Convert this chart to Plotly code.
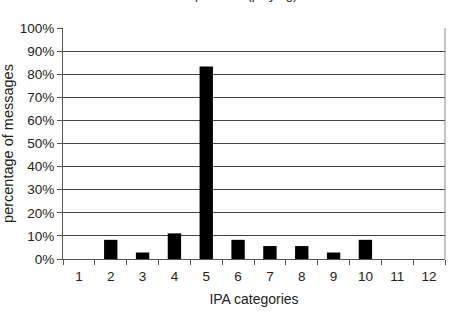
import plotly.graph_objects as go

categories = [1, 2, 3, 4, 5, 6, 7, 8, 9, 10, 11, 12]
values = [0, 8.3, 2.8, 11.1, 83.3, 8.3, 5.6, 5.6, 2.8, 8.3, 0, 0]
y_ticks = [0, 10, 20, 30, 40, 50, 60, 70, 80, 90, 100]
y_tick_labels = [f"{v}%" for v in y_ticks]

FONT = "Liberation Sans, Arial, sans-serif"

fig = go.Figure()
fig.add_trace(go.Bar(
    x=categories, y=values, width=0.42,
    marker=dict(color="black", line=dict(width=0)),
))

fig.update_layout(
    width=449, height=312,
    margin=dict(l=63, r=4, t=28, b=53),
    paper_bgcolor="white", plot_bgcolor="white",
    showlegend=False,
    font=dict(family=FONT, size=13, color="#222"),
    xaxis=dict(
        range=[0.5, 12.5], tickvals=categories, ticktext=[str(c) for c in categories],
        ticks="", showgrid=False, showline=True, linecolor="#555", linewidth=1,
        mirror=False, zeroline=False, ticklabelstandoff=5,
        minor=dict(tickvals=[i + 0.5 for i in range(0, 13)], ticks="outside",
                   ticklen=5, tickcolor="#555", showgrid=False),
        title=dict(text="IPA categories", font=dict(size=14), standoff=10),
        tickfont=dict(size=13.5),
    ),
    yaxis=dict(
        range=[0, 100], tickvals=y_ticks, ticktext=y_tick_labels,
        ticks="outside", ticklen=5, tickcolor="#555",
        showgrid=True, gridcolor="#444", gridwidth=1,
        showline=True, linecolor="#555", linewidth=1, zeroline=False,
        title=dict(text="percentage of messages", font=dict(size=14.5), standoff=2),
        tickfont=dict(size=13.5),
    ),
)

# right border
fig.add_shape(type="line", xref="paper", yref="paper", x0=1, x1=1, y0=0, y1=1,
              line=dict(color="#888", width=1))

# title cut off by top edge of the image (as in the reference)
fig.add_annotation(text="Group A - IPA (playing)", xref="paper", yref="paper",
                   x=0.44, y=1.104, yanchor="bottom", showarrow=False,
                   font=dict(size=13, color="#222"))

fig.write_html("out.html")
